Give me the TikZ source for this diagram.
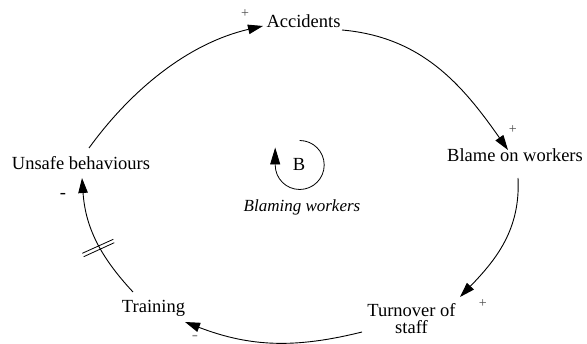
\documentclass[tikz,border=0pt]{standalone}
\usepackage{fontspec}
\setmainfont{Liberation Serif}
\usetikzlibrary{arrows.meta}

\begin{document}
\begin{tikzpicture}[x=1pt, y=1pt,
  var/.style={inner sep=0pt, outer sep=0pt, anchor=base,
    font=\fontsize{18.5}{17}\selectfont},
  sign/.style={inner sep=0pt, font=\fontsize{14}{14}\selectfont, text=black!70},
  link/.style={line width=0.9pt, -{Triangle[length=15pt, width=9.5pt]}},
  delay/.style={line width=0.8pt}
]
\useasboundingbox (0,0) rectangle (587,344);

% variables of the loop
\node[var] (acc)      at (303.5,316) {Accidents};
\node[var] (blame)    at (515,182)   {Blame on workers};
\node[var, align=center] (turn) at (411.5,10.5) {Turnover of\\staff};
\node[var] (train)    at (153.5,31)  {Training};
\node[var] (unsafe)   at (81,174)    {Unsafe behaviours};

% causal links
\draw[link] ([shift={(8,22)}]unsafe.base)
  to[out=54, in=193, looseness=0.9] ([shift={(-40.5,2)}]acc.base);
\draw[link] ([shift={(38.5,-2)}]acc.base)
  to[out=-5, in=125] ([shift={(-7,12)}]blame.base);
\draw[link] ([shift={(3,-16)}]blame.base)
  to[out=-87, in=46] ([shift={(48.5,36.5)}]turn.base);
\draw[link] ([shift={(-49.5,1.5)}]turn.base)
  to[out=194, in=-21] ([shift={(31.5,-9)}]train.base);
\draw[link] ([shift={(-20.5,21)}]train.base)
  to[out=133, in=-86] ([shift={(1,-8)}]unsafe.base);

% delay mark on the training link
\draw[delay] (82.3,90.7) -- (113.3,104.7);
\draw[delay] (83.7,87.3) -- (114.3,101.3);

% link polarities
\node[sign] (p1) at (245,330) {+};
\node[sign] (p2) at (512.7,214) {+};
\node[sign] (p3) at (482.7,40) {+};
\node[inner sep=0pt, font=\fontsize{18.5}{18.5}\selectfont] (m1) at (63,148) {-};
\node[inner sep=0pt, font=\fontsize{18.5}{18.5}\selectfont, text=black!45] (m2) at (195,6) {-};

% loop identifier
\node[var] (loopB) at (299,173.3) {B};
\coordinate (loopc) at (299.7,179);
\draw[line width=0.8pt, -{Triangle[length=17pt, width=10pt]}]
  ([shift={(90:24.5)}]loopc) arc[start angle=90, end angle=-180, radius=24.5]
  -- ++(0,17.5);
\node[inner sep=0pt, anchor=base, font=\fontsize{17}{17}\selectfont\itshape]
  (loopname) at (302,132) {Blaming workers};
\end{tikzpicture}
\end{document}
